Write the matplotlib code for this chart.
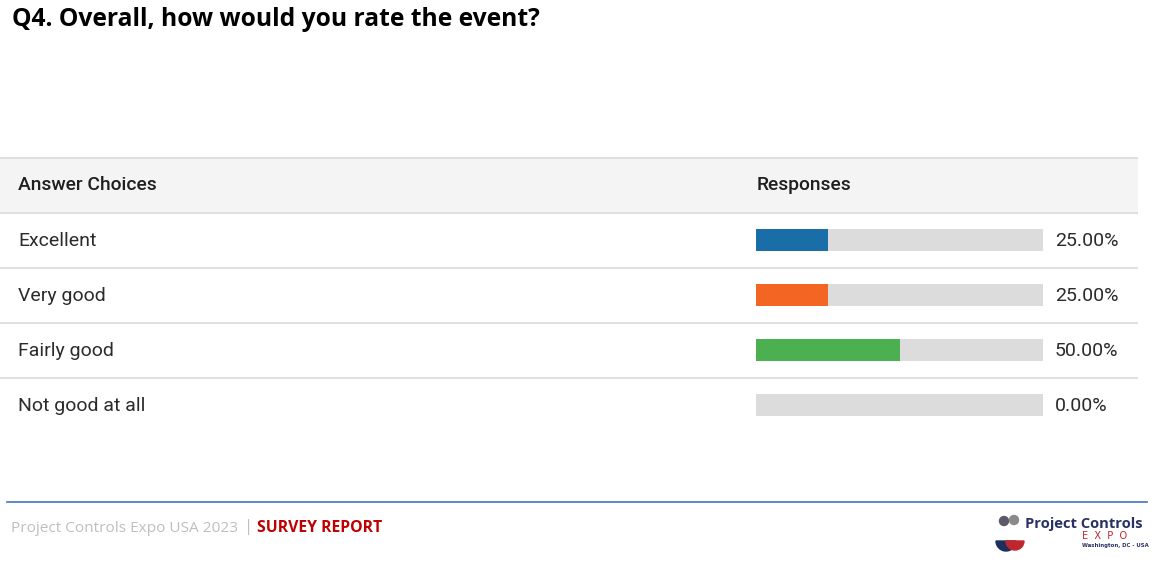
import matplotlib
matplotlib.use("Agg")
import matplotlib.pyplot as plt
from matplotlib.patches import Rectangle, Circle, Wedge

title = "Q4. Overall, how would you rate the event?"
categories = ["Excellent", "Very good", "Fairly good", "Not good at all"]
values = [25.00, 25.00, 50.00, 0.00]
colors = ["#1a6ea8", "#f26522", "#4caf50", "#4caf50"]
header_left = "Answer Choices"
header_right = "Responses"
footer_left = "Project Controls Expo USA 2023"
footer_right = "SURVEY REPORT"

W, H = 1165, 567
fig = plt.figure(figsize=(W / 100, H / 100), dpi=100)
ax0 = fig.add_axes([0, 0, 1, 1])
ax0.set_xlim(0, W)
ax0.set_ylim(H, 0)
ax0.axis("off")

# title
ax0.text(12, 19, title, fontsize=17.7, fontweight="bold", family="Open Sans",
         va="center", ha="left", color="black")

# table header
ax0.add_patch(Rectangle((0, 158), 1138, 54, facecolor="#f4f4f4", edgecolor="none"))
for y in [157.5, 212.5, 268, 323, 378]:
    ax0.plot([0, 1138], [y, y], color="#dadada", lw=1.2, solid_capstyle="butt")
ax0.text(18, 185.5, header_left, fontsize=13.9, family="Roboto", fontweight="medium",
         va="center", color="#1f1f1f")
ax0.text(757, 185.5, header_right, fontsize=13.9, family="Roboto", fontweight="medium",
         va="center", color="#1f1f1f")

row_h = 55
row0 = 212.5
for i, c in enumerate(categories):
    ax0.text(18, row0 + row_h * i + 28.5, c, fontsize=14, family="Roboto",
             va="center", color="#2b2b2b")

# bar axes
bx0, bx1 = 756, 1043
top, bot = row0, row0 + row_h * 4
axb = fig.add_axes([bx0 / W, 1 - bot / H, (bx1 - bx0) / W, (bot - top) / H])
axb.set_xlim(0, 100)
axb.set_ylim(3.5, -0.5)
axb.axis("off")
ypos = list(range(len(categories)))
axb.barh(ypos, [100] * len(categories), height=0.39, color="#dcdcdc")
axb.barh(ypos, values, height=0.39, color=colors)
for y, v in zip(ypos, values):
    axb.annotate(f"{v:.2f}%", xy=(100, y), xytext=(8.5, -0.7), textcoords="offset points",
                 fontsize=14, family="Roboto", va="center", ha="left", color="#2b2b2b",
                 annotation_clip=False)

# footer
ax0.plot([7, 1147], [502, 502], color="#4472c4", lw=1.2)
ax0.text(11, 528, footer_left, fontsize=11.1, family="Open Sans",
         va="center", color="#bfbfbf")
ax0.text(244, 527, "|", fontsize=12, family="Open Sans", color="#bfbfbf", va="center")
ax0.text(257, 528, footer_right, fontsize=11.3, family="Open Sans", fontweight="bold",
         color="#c00000", va="center")

# logo
ax0.add_patch(Circle((1004, 521), 4.5, color="#5a5a6a"))
ax0.add_patch(Circle((1014, 520), 4.5, color="#8a8a8a"))
ax0.add_patch(Wedge((1006, 541), 10, 0, 180, color="#1e2f5e"))
ax0.add_patch(Wedge((1015, 541), 9, 0, 180, color="#c0272d"))
ax0.text(1025, 524, "Project Controls", fontsize=10.6, family="Open Sans", fontweight="bold",
         color="#2a3163", va="center")
ax0.text(1082, 536, "E  X  P  O", fontsize=7, family="DejaVu Sans",
         color="#c0272d", va="center")
ax0.text(1082, 545, "Washington, DC - USA", fontsize=3.9, family="DejaVu Sans",
         fontweight="bold", color="#2a3163", va="center")

fig.savefig("out.png", dpi=100)
